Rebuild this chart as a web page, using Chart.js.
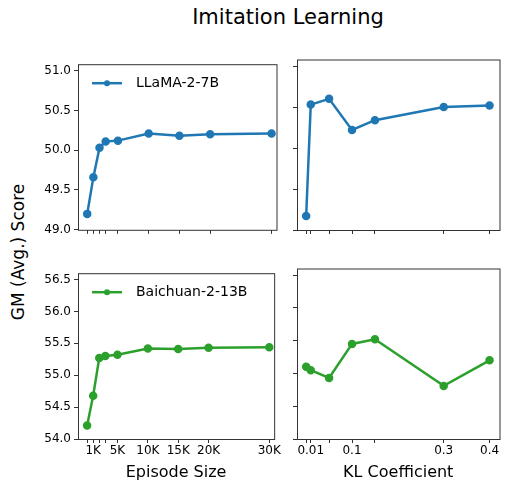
<!DOCTYPE html><html><head><script src="https://cdn.jsdelivr.net/npm/chart.js@4"></script>
<style>body{margin:0;width:512px;height:486px;position:relative;background:#fff;font-family:"DejaVu Sans"}canvas{position:absolute}
#t{position:absolute;top:5px;left:0;width:576px;text-align:center;font-size:21px}
#yl{position:absolute;left:18px;top:252px;transform:translate(-50%,-50%) rotate(-90deg);font-size:17px;white-space:nowrap}</style></head><body>
<div id="t">Imitation Learning</div><div id="yl">GM (Avg.) Score</div>
<canvas id="c1"></canvas><canvas id="c2"></canvas><canvas id="c3"></canvas><canvas id="c4"></canvas>
<script>
const episodeSizes=[0,1000,2000,3000,5000,10000,15000,20000,30000];
const episodeTicks=[0,1000,2000,3000,5000,10000,15000,20000,30000];
const episodeLabels={1000:'1K',5000:'5K',10000:'10K',15000:'15K',20000:'20K',30000:'30K'};
const klCoefs=[0,0.01,0.05,0.1,0.15,0.3,0.4];
const klTicks=[0,0.01,0.05,0.1,0.15,0.3,0.4];
const klLabels={0.01:'0.01',0.1:'0.1',0.3:'0.3',0.4:'0.4'};
const llamaEpisode=[49.2,49.66,50.03,50.11,50.12,50.21,50.18,50.2,50.21];
const llamaKL=[49.17,50.53,50.6,50.22,50.34,50.5,50.52];
const baichuanEpisode=[54.21,54.68,55.27,55.3,55.32,55.42,55.41,55.43,55.44];
const baichuanKL=[55.1,55.05,54.93,55.45,55.52,54.81,55.2];
const topTicks=[49.0,49.5,50.0,50.5,51.0];
const botTicks=[54.0,54.5,55.0,55.5,56.0,56.5];
const blue='#1f77b4',green='#2ca02c';
const F='DejaVu Sans';
const box={id:'box',afterDraw(c){const a=c.chartArea,x=c.ctx;x.save();x.strokeStyle='#333';x.lineWidth=1;x.strokeRect(a.left+.5,a.top+.5,a.right-a.left,a.bottom-a.top);
 const lg=c.options.plugins.myLegend; if(lg){const y=a.top+19,x0=a.left+14;x.strokeStyle=lg.color;x.lineWidth=2.5;x.beginPath();x.moveTo(x0,y);x.lineTo(x0+30,y);x.stroke();x.fillStyle=lg.color;x.beginPath();x.arc(x0+15,y,3,0,7);x.fill();x.fillStyle='#000';x.font='14px '+F;x.textBaseline='middle';x.fillText(lg.text,x0+44,y);}
 x.restore();}};
function mk(id,pos,xs,ys,color,xt,xl,xmin,xmax,yt,ymin,ymax,showYLabels,bottom,xtitle,legend){
 const el=document.getElementById(id);el.style.left=pos[0]+'px';el.style.top=pos[1]+'px';el.width=pos[2];el.height=pos[3];
 new Chart(el,{type:'line',data:{datasets:[{data:xs.map((v,i)=>({x:v,y:ys[i]})),borderColor:color,backgroundColor:color,borderWidth:2.5,pointRadius:3,pointHoverRadius:3}]},
 options:{responsive:false,animation:false,devicePixelRatio:1,layout:{padding:{top:2,right:5,left:0,bottom:0}},
 plugins:{legend:{display:false},tooltip:{enabled:false},myLegend:legend},
 scales:{x:{type:'linear',min:xmin,max:xmax,afterBuildTicks:s=>{s.ticks=xt.map(v=>({value:v}))},afterFit:s=>{s.height=bottom?47:10},
  grid:{drawOnChartArea:false,tickLength:4,color:'#333'},border:{display:false},
  ticks:{display:bottom,autoSkip:false,maxRotation:0,padding:1,color:'#000',font:{family:F,size:12},callback:v=>xl[v]||''},
  title:{display:bottom,text:xtitle,color:'#000',font:{family:F,size:16},padding:{top:0}}},
 y:{min:ymin,max:ymax,afterBuildTicks:s=>{s.ticks=yt.map(v=>({value:v}))},afterFit:s=>{s.width=showYLabels?50:7},
  grid:{drawOnChartArea:false,tickLength:4,color:'#333'},border:{display:false},
  ticks:{display:showYLabels,padding:3,color:'#000',font:{family:F,size:12},callback:v=>v.toFixed(1)}}}},plugins:[box]});
}
mk('c1',[28,54,254,186],episodeSizes,llamaEpisode,blue,episodeTicks,episodeLabels,-1500,30800,topTicks,49.0,51.08,true,false,'',{color:blue,text:'LLaMA-2-7B'});
mk('c2',[290,54,215,186],klCoefs,llamaKL,blue,klTicks,klLabels,-0.02,0.4217,topTicks,49.0,51.08,false,false,'',null);
mk('c3',[28,263,254,223],episodeSizes,baichuanEpisode,green,episodeTicks,episodeLabels,-1500,30800,botTicks,54.0,56.6,true,true,'Episode Size',{color:green,text:'Baichuan-2-13B'});
mk('c4',[290,263,215,223],klCoefs,baichuanKL,green,klTicks,klLabels,-0.02,0.4217,botTicks,54.0,56.6,false,true,'KL Coefficient',null);
</script></body></html>
